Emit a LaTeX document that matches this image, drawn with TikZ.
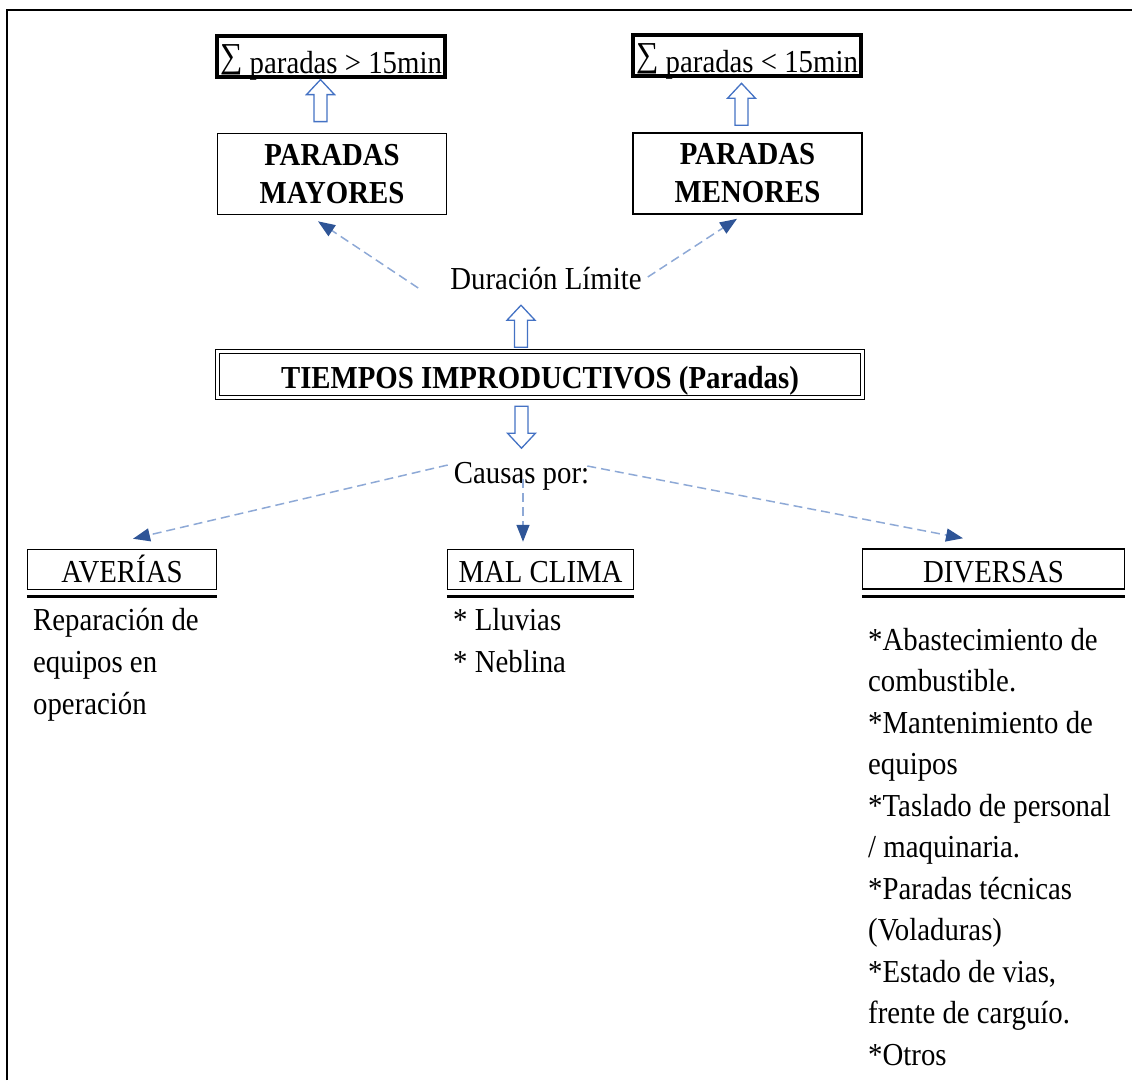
\documentclass[tikz,border=0pt]{standalone}
\usepackage{fontspec}
\setmainfont{Liberation Serif}[FakeStretch=0.9]
\usetikzlibrary{arrows.meta}
\definecolor{hollowblue}{HTML}{4472C4}
\definecolor{dashblue}{HTML}{8EA9D6}
\definecolor{tipblue}{HTML}{2F5597}
\newcommand{\bigsum}{\raisebox{6pt}{\fontsize{35}{35}\selectfont ∑}}

\begin{document}
\begin{tikzpicture}[x=1pt,y=-1pt,
  basefont/.style={font=\fontsize{32}{41.5}\selectfont},
  plain/.style={basefont, inner sep=0pt, text height=20pt, text depth=6pt},
  sumbox/.style={draw, line width=3.2pt, minimum width=228pt, minimum height=41pt,
    inner sep=0pt, text height=33pt, text depth=0pt, basefont},
  bigbox/.style={draw, line width=1.6pt, minimum width=229pt, minimum height=81pt,
    inner sep=0pt, align=center, font=\bfseries\fontsize{32}{38}\selectfont},
  titlebox/.style={draw, double, line width=1.4pt, double distance=2.4pt,
    minimum width=645pt, minimum height=46pt, inner sep=0pt,
    text height=27pt, text depth=0pt, font=\bfseries\fontsize{32}{35}\selectfont},
  catbox/.style={draw, line width=1.5pt, minimum height=40pt, inner sep=0pt,
    text height=26pt, text depth=0pt, basefont},
  underl/.style={line width=3.4pt},
  listtxt/.style={basefont, inner sep=0pt, align=left, anchor=north west},
  dasharrow/.style={draw=dashblue, line width=1.5pt, dash pattern=on 9pt off 5pt,
    -{Triangle[length=17pt, width=13pt, color=tipblue]}},
  hollowline/.style={draw=hollowblue, line width=1.3pt, fill=white, line join=miter},
  hollowup/.pic={\path[hollowline] (0,0) -- (14,15) -- (6.5,15) -- (6.5,42)
    -- (-6.5,42) -- (-6.5,15) -- (-14,15) -- cycle;}
]
\useasboundingbox (0,0) rectangle (1132,1080);

% page frame (top and left rules)
\draw[line width=1.5pt] (7,1080) -- (7,10) -- (1132,10);

% top row: thresholds
\node[sumbox] (sumA) at (331,56.5) {\bigsum{} paradas > 15min};
\node[sumbox] (sumB) at (747,55.5) {\bigsum{} paradas < 15min};

% stop classes
\node[bigbox] (mayA) at (332,174) {PARADAS\\MAYORES};
\node[bigbox] (menB) at (747.5,173.5) {PARADAS\\MENORES};

% duration limit label
\node[plain, anchor=base] (dur) at (546,289) {Duración Límite};

% main box
\node[titlebox] (tiem) at (540,374.5) {TIEMPOS IMPRODUCTIVOS (Paradas)};

% causes label
\node[plain, anchor=base] (caus) at (521.5,483) {Causas por:};

% cause categories
\node[catbox, minimum width=189pt] (aver) at (122,569.5) {AVERÍAS};
\node[catbox, minimum width=186pt] (malc) at (540.5,569.5) {MAL CLIMA};
\node[catbox, minimum width=262pt] (dive) at (993.5,569) {DIVERSAS};

\foreach \b in {aver,malc,dive}
  \draw[underl] ([yshift=-6.5pt]\b.south west) -- ([yshift=-6.5pt]\b.south east);

% detail lists
\node[listtxt, font=\fontsize{32}{42}\selectfont] (averTxt) at (33,608)
  {Reparación de\\equipos en\\operación};
\node[listtxt, font=\fontsize{32}{42}\selectfont] (malcTxt) at (453,608)
  {* Lluvias\\* Neblina};
\node[listtxt] (diveTxt) at (868,628)
  {*Abastecimiento de\\combustible.\\*Mantenimiento de\\equipos\\*Taslado de personal\\/ maquinaria.\\*Paradas técnicas\\(Voladuras)\\*Estado de vias,\\frente de carguío.\\*Otros};

% hollow block arrows
\pic at ([xshift=-10.5pt, yshift=-1pt]sumA.south) {hollowup};
\pic at ([xshift=-5.5pt, yshift=-5.7pt]sumB.south) {hollowup};
\pic at ([xshift=-25pt, yshift=-10pt]dur.south) {hollowup};
\pic[rotate=180] at ([xshift=-18.5pt, yshift=-50pt]tiem.south) {hollowup};

% dashed connectors
\draw[dasharrow] ([shift={(-32,6)}]dur.west) -- ([shift={(-14,6)}]mayA.south);
\draw[dasharrow] ([shift={(6,-5)}]dur.east) -- ([shift={(-10.5,4)}]menB.south);
\draw[dasharrow] ([shift={(-6,-11)}]caus.west) -- ([shift={(11,-10)}]aver.north);
\draw[dasharrow] ([shift={(1.5,-10)}]caus.south) -- ([shift={(-17.5,-7)}]malc.north);
\draw[dasharrow] ([shift={(-2,-10)}]caus.east) -- ([shift={(-30.5,-10)}]dive.north);
\end{tikzpicture}
\end{document}
